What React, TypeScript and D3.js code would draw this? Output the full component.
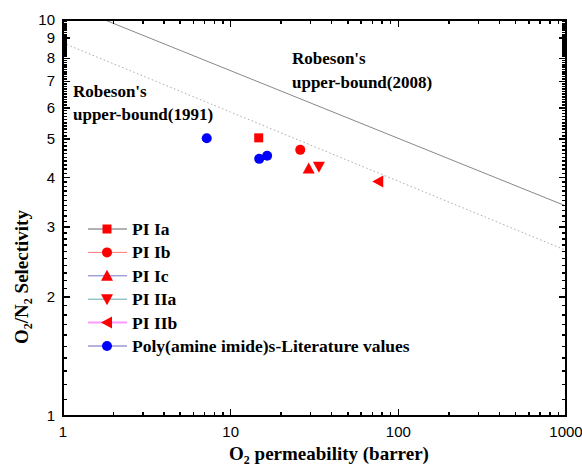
import React from "react";
import * as d3 from "d3";

// Robeson upper bounds (P in barrer, alpha O2/N2)
const bound1991P = [1, 1000];
const bound1991A = [8.75, 2.62];
const bound2008P = [1.78, 1000];
const bound2008A = [10, 3.39];

// series: [O2 permeability, selectivity]
const piIa = [[14.7, 5.04]];
const piIb = [[26.0, 4.7]];
const piIc = [[29.2, 4.22]];
const piIIa = [[33.6, 4.26]];
const piIIb = [[75.9, 3.91]];
const literature = [[7.2, 5.03], [14.8, 4.46], [16.5, 4.54]];

const xTickLabels = ["1", "10", "100", "1000"];
const yTickLabels = ["1", "2", "3", "4", "5", "6", "7", "8", "9", "10"];

const legendNames = ["PI Ia", "PI Ib", "PI Ic", "PI IIa", "PI IIb", "Poly(amine imide)s-Literature values"];
const legendLines = ["#666", "#f77", "#77c", "#6aa", "#f9f", "#66b"];

const W = 582, H = 470;
const m = { left: 63, right: 16, top: 20, bottom: 54 };

const Marker = ({ shape, x, y, color }: any) => {
    if (shape === "square") return <rect x={x - 4.5} y={y - 4.5} width={9} height={9} fill={color} />;
    if (shape === "circle") return <circle cx={x} cy={y} r={5} fill={color} />;
    let pts: number[][] = [];
    if (shape === "up") pts = [[x, y - 6], [x + 6, y + 5], [x - 6, y + 5]];
    if (shape === "down") pts = [[x, y + 6], [x + 6, y - 5], [x - 6, y - 5]];
    if (shape === "left") pts = [[x - 6, y], [x + 5, y - 6], [x + 5, y + 6]];
    return <polygon points={pts.map(p => p.join(",")).join(" ")} fill={color} />;
};

export default function App() {
    const x = d3.scaleLog().domain([1, 1000]).range([m.left, W - m.right]);
    const y = d3.scaleLog().domain([1, 10]).range([H - m.bottom, m.top]);
    const x0 = m.left, x1 = W - m.right, y0 = H - m.bottom, y1 = m.top;

    const xMajor = [1, 10, 100, 1000];
    const xMinor = [2, 3, 4, 5, 6, 7, 8, 9].flatMap(d => [d, d * 10, d * 100]);
    const yMajor = d3.range(1, 11);
    const yMinor = d3.range(10, 100).filter(v => v % 10 !== 0).map(v => v / 10);

    // every tick as one path, all pointing inward
    const tickPath = () => {
        const p = d3.path();
        const xt = (v: number, len: number) => {
            p.moveTo(x(v), y0); p.lineTo(x(v), y0 - len);
            p.moveTo(x(v), y1); p.lineTo(x(v), y1 + len);
        };
        const yt = (v: number, len: number) => {
            p.moveTo(x0, y(v)); p.lineTo(x0 + len, y(v));
            p.moveTo(x1, y(v)); p.lineTo(x1 - len, y(v));
        };
        xMajor.forEach(v => xt(v, 7));
        xMinor.forEach(v => xt(v, 4));
        yMajor.forEach(v => yt(v, 7));
        yMinor.forEach(v => yt(v, 4));
        return p.toString();
    };

    // clip an upper-bound line to the top of the frame
    const seg = (P: number[], A: number[]) => {
        const lx = P.map(v => Math.log10(v)), ly = A.map(v => Math.log10(v));
        const slope = (ly[1] - ly[0]) / (lx[1] - lx[0]);
        let xs = lx[0], ys = ly[0];
        if (ys > 1) { xs = lx[0] + (1 - ly[0]) / slope; ys = 1; }
        return d3.line()([[x(10 ** xs), y(10 ** ys)], [x(P[1]), y(A[1])]]) || "";
    };

    const series = [
        { data: piIa, shape: "square", color: "#f00" },
        { data: piIb, shape: "circle", color: "#f00" },
        { data: piIc, shape: "up", color: "#f00" },
        { data: piIIa, shape: "down", color: "#f00" },
        { data: piIIb, shape: "left", color: "#f00" },
        { data: literature, shape: "circle", color: "#00f" },
    ];

    const serif = "'Liberation Serif', 'Times New Roman', serif";
    const sans = "'Liberation Sans', Arial, sans-serif";

    return (
        <svg width={W} height={H} style={{ position: "absolute", left: 0, top: 0, background: "#fff" }}>
            <rect width={W} height={H} fill="#fff" />
            <path d={seg(bound2008P, bound2008A)} stroke="#888" strokeWidth={1} fill="none" />
            <path d={seg(bound1991P, bound1991A)} stroke="#aaa" strokeWidth={1} strokeDasharray="1.5,2.5" fill="none" />

            {series.map((s, i) => s.data.map((d, j) => (
                <Marker key={i + "-" + j} shape={s.shape} x={x(d[0])} y={y(d[1])} color={s.color} />
            )))}

            <path d={tickPath()} stroke="#000" strokeWidth={1.5} fill="none" shapeRendering="crispEdges" />
            <rect x={x0} y={y1} width={x1 - x0} height={y0 - y1} fill="none" stroke="#000" strokeWidth={2} shapeRendering="crispEdges" />

            <g fontFamily={sans} fontSize={15} fill="#000">
                {xMajor.map((v, i) => <text key={"xl" + v} x={x(v)} y={y0 + 21} textAnchor="middle">{xTickLabels[i]}</text>)}
                {yMajor.map((v, i) => <text key={"yl" + v} x={x0 - 8} y={y(v) + 5} textAnchor="end">{yTickLabels[i]}</text>)}
            </g>

            <g fontFamily={serif} fontWeight="bold" fill="#000">
                <g fontSize={19}>
                    <text x={329} y={460} textAnchor="middle">
                        O<tspan fontSize={12} dy={4}>2</tspan><tspan dy={-4}> permeability (barrer)</tspan>
                    </text>
                    <text transform={`translate(28,${277}) rotate(-90)`} textAnchor="middle">
                        O<tspan fontSize={12} dy={4}>2</tspan><tspan dy={-4}>/N</tspan><tspan fontSize={12} dy={4}>2</tspan><tspan dy={-4}> Selectivity</tspan>
                    </text>
                </g>

                <g fontSize={17}>
                    <text x={73} y={97}>Robeson's</text>
                    <text x={73} y={120}>upper-bound(1991)</text>
                    <text x={292} y={64}>Robeson's</text>
                    <text x={292} y={88}>upper-bound(2008)</text>
                </g>

                <g fontSize={17.5}>
                    {legendNames.map((n, i) => {
                        const ly = 229 + i * 23.4;
                        const s = series[i];
                        return <g key={n}>
                            <line x1={88} x2={127} y1={ly} y2={ly} stroke={legendLines[i]} strokeWidth={i === 4 ? 2 : 1} />
                            <Marker shape={s.shape} x={107} y={ly} color={s.color} />
                            <text x={132} y={ly + 6}>{n}</text>
                        </g>;
                    })}
                </g>
            </g>
        </svg>
    );
}
